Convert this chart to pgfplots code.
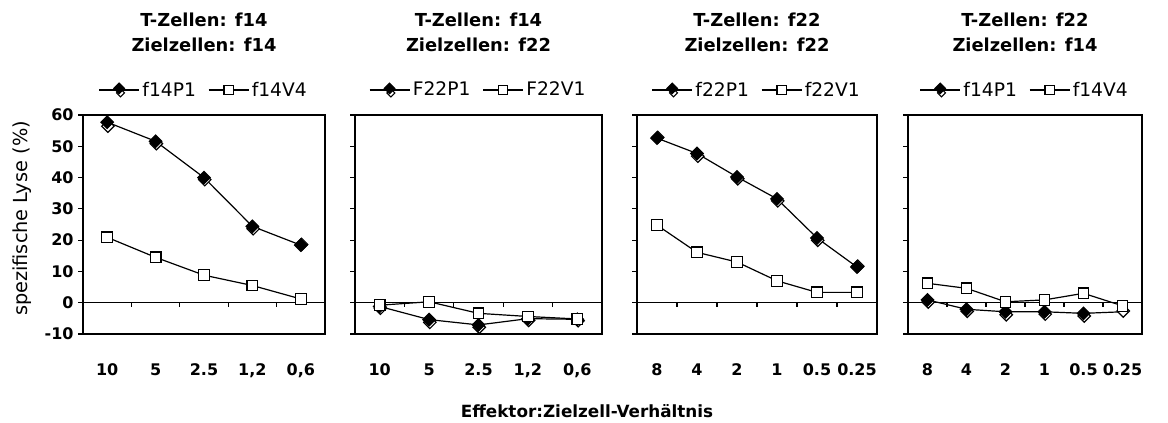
\documentclass[border=0pt]{standalone}
\usepackage{fontspec}
\setmainfont{DejaVu Sans}
\usepackage{pgfplots}
\pgfplotsset{compat=1.18}

\pgfplotsset{
  panel/.style={
    scale only axis, height=164.25pt, anchor=south west,
    ymin=-10, ymax=60, ytick={-10,0,...,60},
    clip=false,
    axis line style={line width=1.3pt},
    tick align=outside, ytick pos=left,
    major tick length=3.5pt,
    y tick style={line width=0.8pt, black},
    x tick style={draw=none},
    /pgf/number format/assume math mode=true,
    xticklabel style={yshift=-15pt, font=\bfseries\fontsize{12}{14}\selectfont},
    yticklabel style={font=\bfseries\fontsize{12}{14}\selectfont},
    legend style={at={(0.5,1)}, anchor=center, yshift=18.75pt, draw=none, fill=none,
      legend columns=2, inner sep=0pt,
      font=\fontsize{14}{16}\selectfont,
      /tikz/every even column/.append style={column sep=7pt}},
  },
  wdia/.style={only marks, black, mark=square*, mark size=3.3pt,
    mark options={rotate=45, fill=white, line width=0.9pt, xshift=0.8pt}, forget plot},
  bdia/.style={line width=0.9pt, black, mark=square*, mark size=3.3pt,
    mark options={rotate=45, fill=black, line width=0.9pt},
    legend image code/.code={
      \draw[line width=0.9pt] (0pt,0pt) -- (30pt,0pt);
      \draw[line width=0.8pt, fill=white] (16pt,0.8pt) -- (19pt,-2.2pt) -- (16pt,-5.2pt) -- (13pt,-2.2pt) -- cycle;
      \draw[line width=0.8pt, fill=black] (15pt,5.2pt) -- (19pt,1.2pt) -- (15pt,-2.8pt) -- (11pt,1.2pt) -- cycle;
    }},
  sq/.style={line width=0.9pt, black, mark=square*, mark size=4pt,
    mark options={fill=white, line width=0.9pt},
    legend image code/.code={
      \draw[line width=0.9pt] (0pt,0pt) -- (30pt,0pt);
      \draw[line width=0.8pt, fill=white] (11.6pt,-3.4pt) rectangle (18.4pt,3.4pt);
    }},
}

\begin{document}
\begin{tikzpicture}
\path[use as bounding box] (0pt,0pt) rectangle (876pt,-317.25pt);

% ---------- Panel 1 ----------
\begin{axis}[panel, at={(62.25pt,-250.5pt)}, width=181.5pt,
  xmin=-0.5, xmax=4.5, xtick={0,...,4},
  xticklabels={10,5,2.5,{1,2},{0,6}}]
\draw[line width=0.8pt] (axis cs:-0.5,0) -- (axis cs:4.5,0);
\pgfplotsinvokeforeach{0.5,1.5,2.5,3.5}{\draw[line width=0.8pt] (axis cs:#1,0) -- ++(0pt,-3pt);}
\addplot[wdia] coordinates {(0,56.2) (1,50.6) (2,39.1) (3,23.4) (4,18.4)};
\addplot[bdia] coordinates {(0,57.7) (1,51.6) (2,40.0) (3,24.4) (4,18.4)};
\addlegendentry{f14P1}
\addplot[sq] coordinates {(0,20.9) (1,14.5) (2,8.8) (3,5.5) (4,1.2)};
\addlegendentry{f14V4}
\end{axis}

% ---------- Panel 2 ----------
\begin{axis}[panel, at={(266.25pt,-250.5pt)}, width=185.25pt,
  xmin=-0.5, xmax=4.5, xtick={0,...,4}, yticklabels={},
  xticklabels={10,5,2.5,{1,2},{0,6}}]
\draw[line width=0.8pt] (axis cs:-0.5,0) -- (axis cs:4.5,0);
\pgfplotsinvokeforeach{0.5,1.5,2.5,3.5}{\draw[line width=0.8pt] (axis cs:#1,0) -- ++(0pt,-3pt);}
\addplot[wdia] coordinates {(0,-2.0) (1,-6.5) (2,-8.1) (3,-5.9) (4,-6.0)};
\addplot[bdia] coordinates {(0,-1.2) (1,-5.4) (2,-7.1) (3,-5.1) (4,-5.3)};
\addlegendentry{F22P1}
\addplot[sq] coordinates {(0,-0.8) (1,0.3) (2,-3.4) (3,-4.4) (4,-5.2)};
\addlegendentry{F22V1}
\end{axis}

% ---------- Panel 3 ----------
\begin{axis}[panel, at={(477.75pt,-250.5pt)}, width=180pt,
  xmin=-0.5, xmax=5.5, xtick={0,...,5}, yticklabels={},
  xticklabels={8,4,2,1,0.5,0.25}]
\draw[line width=0.8pt] (axis cs:-0.5,0) -- (axis cs:5.5,0);
\pgfplotsinvokeforeach{0.5,1.5,2.5,3.5,4.5}{\draw[line width=0.8pt] (axis cs:#1,0) -- ++(0pt,-3pt);}
\addplot[wdia] coordinates {(0,52.6) (1,46.6) (2,39.4) (3,32.3) (4,19.7) (5,11.4)};
\addplot[bdia] coordinates {(0,52.6) (1,47.7) (2,40.2) (3,33.2) (4,20.7) (5,11.4)};
\addlegendentry{f22P1}
\addplot[sq] coordinates {(0,24.8) (1,16.1) (2,13.0) (3,7.0) (4,3.3) (5,3.3)};
\addlegendentry{f22V1}
\end{axis}

% ---------- Panel 4 ----------
\begin{axis}[panel, at={(681pt,-250.5pt)}, width=175.5pt,
  xmin=-0.5, xmax=5.5, xtick={0,...,5}, yticklabels={},
  xticklabels={8,4,2,1,0.5,0.25}]
\draw[line width=0.8pt] (axis cs:-0.5,0) -- (axis cs:5.5,0);
\pgfplotsinvokeforeach{0.5,1.5,2.5,3.5,4.5}{\draw[line width=0.8pt] (axis cs:#1,0) -- ++(0pt,-3pt);}
\addplot[wdia] coordinates {(0,0.0) (1,-3.0) (2,-4.1) (3,-3.9) (4,-4.5) (5,-2.9)};
\addplot[bdia, mark indices={1,2,3,4,5}] coordinates {(0,0.9) (1,-2.1) (2,-2.9) (3,-2.9) (4,-3.4) (5,-2.9)};
\addlegendentry{f14P1}
\addplot[sq] coordinates {(0,6.2) (1,4.6) (2,0.3) (3,0.9) (4,3.0) (5,-1.0)};
\addlegendentry{f14V4}
\end{axis}

% ---------- Titles ----------
\begin{scope}[every node/.style={anchor=base, font=\bfseries\fontsize{13.4}{16}\selectfont, inner sep=0pt}]
\node at (153pt,-20.25pt) {T-Zellen: f14};
\node at (153pt,-38.6pt) {Zielzellen: f14};
\node at (358.9pt,-20.25pt) {T-Zellen: f14};
\node at (358.9pt,-38.6pt) {Zielzellen: f22};
\node at (567.75pt,-20.25pt) {T-Zellen: f22};
\node at (567.75pt,-38.6pt) {Zielzellen: f22};
\node at (768.75pt,-20.25pt) {T-Zellen: f22};
\node at (768.75pt,-38.6pt) {Zielzellen: f14};
\end{scope}

% ---------- Axis labels ----------
\node[anchor=base, inner sep=0pt, font=\bfseries\fontsize{12.6}{15}\selectfont] at (440.25pt,-313.5pt) {Effektor:Zielzell-Verhältnis};
\node[anchor=base, rotate=90, inner sep=0pt, font=\fontsize{14.5}{16}\selectfont] at (20.25pt,-163.9pt) {spezifische Lyse (\%)};
\end{tikzpicture}
\end{document}
